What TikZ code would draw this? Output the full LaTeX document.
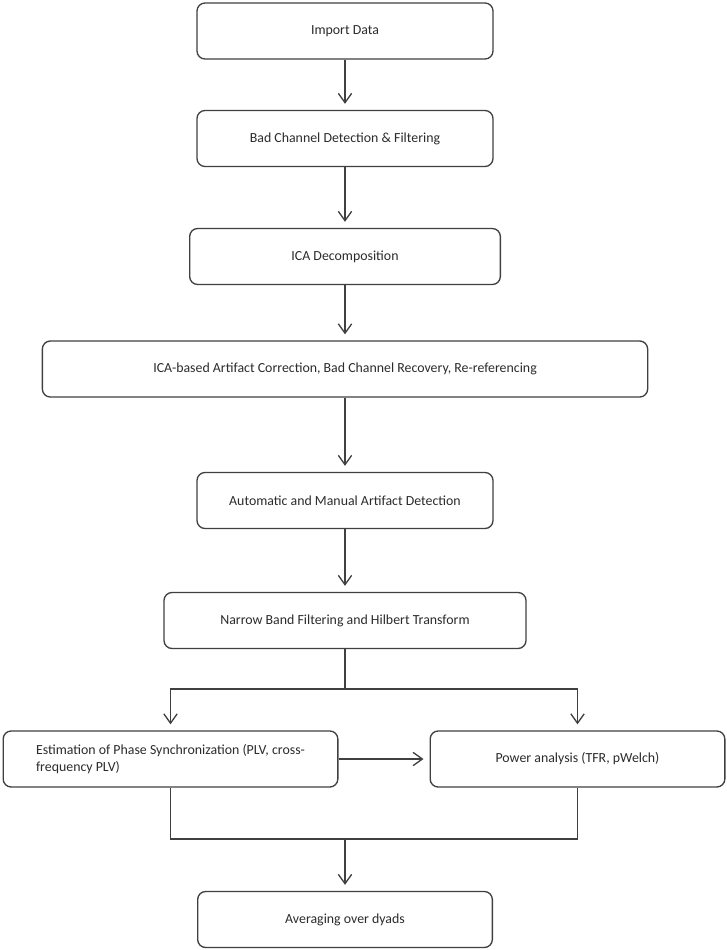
\documentclass[tikz,border=0pt]{standalone}
\usepackage{fontspec}
\setmainfont{Carlito}
\usetikzlibrary{arrows.meta,positioning}
\definecolor{linegray}{HTML}{404040}
\definecolor{textgray}{HTML}{2B2B2B}
\tikzset{
  stage/.style={draw=linegray, line width=1pt, rounded corners=6pt,
    minimum height=42pt, inner sep=4pt, text=textgray,
    font=\fontsize{10.4}{12.8}\selectfont},
  flow/.style={->, shorten >=4.5pt},
}
\begin{document}
\begin{tikzpicture}[x=0.75pt,y=-0.75pt,line width=1pt,draw=linegray,
  >={Straight Barb[length=7pt,width=10pt]}]

  \useasboundingbox (0,0) rectangle (727,950);

  \node[stage, minimum width=222pt]   (0) at (345,31)    {Import Data};
  \node[stage, minimum width=222pt]   (1) at (345,138.5) {Bad Channel Detection \& Filtering};
  \node[stage, minimum width=233pt]   (2) at (345,256.5) {ICA Decomposition};
  \node[stage, minimum width=454pt]   (3) at (345,369)   {ICA-based Artifact Correction, Bad Channel Recovery, Re-referencing};
  \node[stage, minimum width=222pt]   (4) at (345,500.5) {Automatic and Manual Artifact Detection};
  \node[stage, minimum width=271.5pt] (5) at (345,620.5) {Narrow Band Filtering and Hilbert Transform};
  \node[stage, minimum width=251pt, align=left] (6) at (170.5,759)
        {Estimation of Phase Synchronization (PLV, cross-\\frequency PLV)};
  \node[stage, minimum width=221pt]   (7) at (577.5,759) {Power analysis (TFR, pWelch)};
  \node[stage, minimum width=221pt]   (8) at (345,919.5) {Averaging over dyads};

  \coordinate (fork) at (345,689);
  \coordinate (join) at (345,839);

  \path[flow]
     (0) edge (1)
     (1) edge (2)
     (2) edge (3)
     (3) edge (4)
     (4) edge (5)
     (6) edge (7)
     (join) edge (8)
  ;

  % split after the Hilbert step
  \draw (5) -- (fork);
  \draw[flow] (fork) -| (6);
  \draw[flow] (fork) -| (7);

  % both branches meet again
  \draw (6) |- (join) -| (7);
\end{tikzpicture}
\end{document}
